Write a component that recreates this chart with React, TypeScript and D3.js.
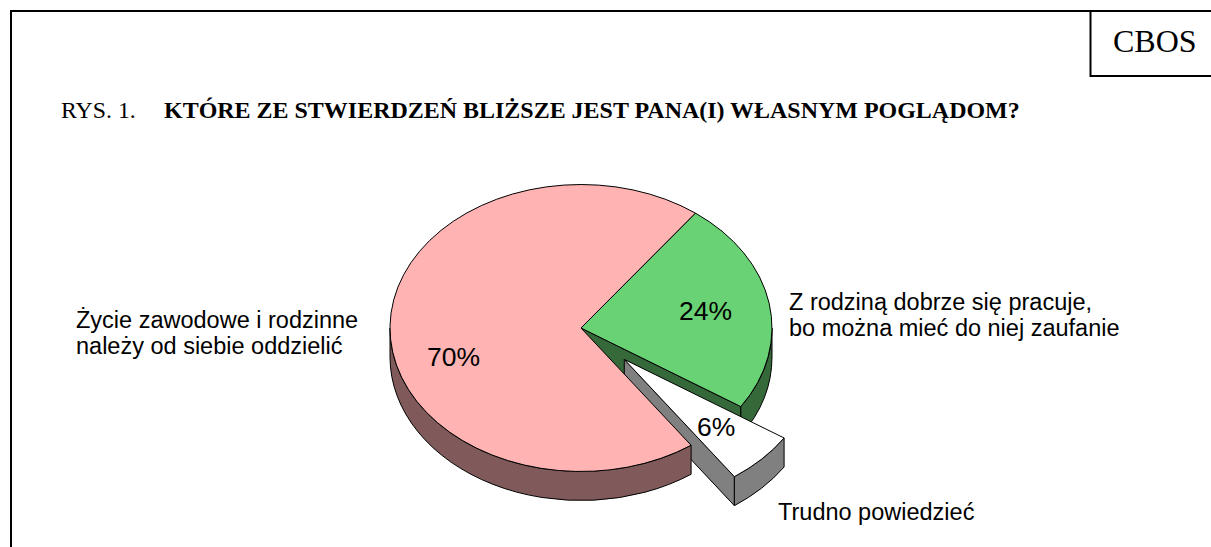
import React from "react";
import * as d3 from "d3";

const categories = ["Z rodziną", "Trudno powiedzieć", "Życie zawodowe"];
const values = [24, 6, 70];
const percentLabels = ["24%", "6%", "70%"];
const topColors = ["#69d274", "#ffffff", "#ffb3b3"];
const wallColors = ["#356939", "#808080", "#805a5a"];
const explode = [0, 0.315, 0];
const startDeg = 36.8;

const cx = 581, cy = 328, rx = 191, ry = 143.5, depth = 29;
const rad = Math.PI / 180;

const pie = d3.pie<number>().sort(null).startAngle(startDeg * rad).endAngle((startDeg + 360) * rad);
const arcs = pie(values);

type P = [number, number];
const pt = (a: number, r = 1, ox = 0, oy = 0, dz = 0): P => [
  cx + ox + rx * r * Math.sin(a),
  cy + oy - ry * r * Math.cos(a) + dz,
];
const fmt = (p: P) => `${p[0].toFixed(2)},${p[1].toFixed(2)}`;

function topPath(a0: number, a1: number, ox: number, oy: number) {
  const large = a1 - a0 > Math.PI ? 1 : 0;
  return `M${fmt([cx + ox, cy + oy])}L${fmt(pt(a0, 1, ox, oy))}A${rx},${ry} 0 ${large} 1 ${fmt(pt(a1, 1, ox, oy))}Z`;
}
function outerWall(a0: number, a1: number, ox: number, oy: number) {
  const s = Math.max(a0, Math.PI / 2), e = Math.min(a1, 1.5 * Math.PI);
  if (e <= s) return null;
  return `M${fmt(pt(s, 1, ox, oy))}A${rx},${ry} 0 0 1 ${fmt(pt(e, 1, ox, oy))}L${fmt(pt(e, 1, ox, oy, depth))}A${rx},${ry} 0 0 0 ${fmt(pt(s, 1, ox, oy, depth))}Z`;
}
function cutWall(a: number, ox: number, oy: number) {
  const c: P = [cx + ox, cy + oy];
  const e = pt(a, 1, ox, oy);
  return `M${fmt(c)}L${fmt(e)}L${fmt([e[0], e[1] + depth])}L${fmt([c[0], c[1] + depth])}Z`;
}

const sans = "'Liberation Sans', Arial, sans-serif";
const serif = "'Liberation Serif', 'Times New Roman', serif";
const stroke = { stroke: "#000", strokeWidth: 1, strokeLinejoin: "round" as const };

export default function App() {
  return (
    <svg width={1211} height={547} style={{ position: "absolute", left: 0, top: 0, background: "#fff" }}>
      <path d="M11,547V11H1211" fill="none" stroke="#000" strokeWidth={2} />
      <path d="M1090.5,11V76H1211" fill="none" stroke="#000" strokeWidth={2} />
      <text x={1113} y={52} fontFamily={serif} fontSize={32}>CBOS</text>
      <text x={61} y={118} fontFamily={serif} fontSize={23.8}>RYS. 1.</text>
      <text x={164} y={118} fontFamily={serif} fontSize={23.98} fontWeight="bold">KTÓRE ZE STWIERDZEŃ BLIŻSZE JEST PANA(I) WŁASNYM POGLĄDOM?</text>

      {arcs.map((d, i) => {
        const mid = (d.startAngle + d.endAngle) / 2;
        const ox = rx * explode[i] * Math.sin(mid);
        const oy = -ry * explode[i] * Math.cos(mid);
        const wall = outerWall(d.startAngle, d.endAngle, ox, oy);
        return (
          <g key={categories[i]}>
            {i < 2 && <path d={cutWall(d.endAngle, ox, oy)} fill={wallColors[i]} {...stroke} />}
            {wall && <path d={wall} fill={wallColors[i]} {...stroke} />}
            <path d={topPath(d.startAngle, d.endAngle, ox, oy)} fill={topColors[i]} {...stroke} />
          </g>
        );
      })}

      <g fontFamily={sans} fontSize={26.5}>
        <text x={679} y={320}>{percentLabels[0]}</text>
        <text x={697} y={436}>{percentLabels[1]}</text>
        <text x={427} y={366}>{percentLabels[2]}</text>
      </g>

      <g fontFamily={sans} fontSize={23.5}>
        <text x={76} y={328}>Życie zawodowe i rodzinne</text>
        <text x={76} y={354}>należy od siebie oddzielić</text>
        <text x={789} y={310}>Z rodziną dobrze się pracuje,</text>
        <text x={789} y={336}>bo można mieć do niej zaufanie</text>
        <text x={778} y={520}>Trudno powiedzieć</text>
      </g>
    </svg>
  );
}
